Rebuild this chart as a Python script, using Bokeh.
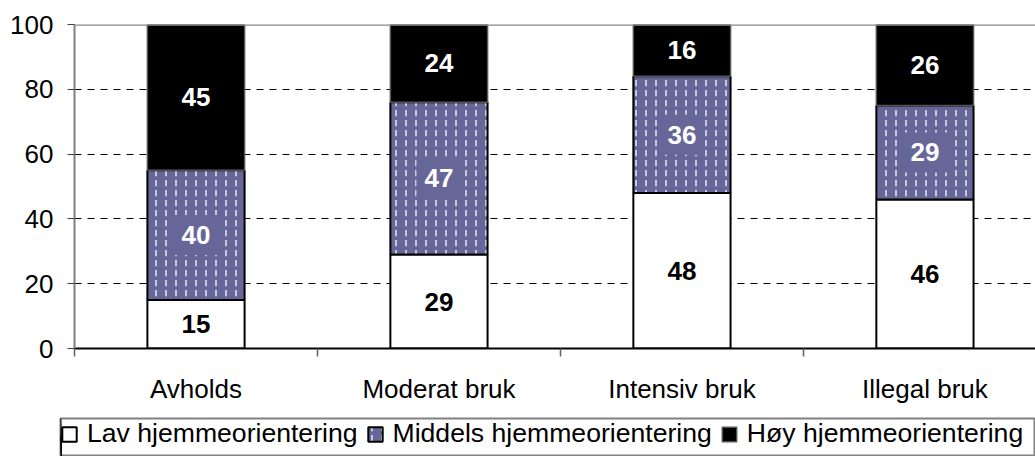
from bokeh.plotting import figure
from bokeh.layouts import column
from bokeh.models import (Range1d, FixedTicker, Label, Legend, LegendItem, Span)
from bokeh.embed import file_html
from bokeh.resources import INLINE

categories = ["Avholds", "Moderat bruk", "Intensiv bruk", "Illegal bruk"]
series_names = ["Lav hjemmeorientering", "Middels hjemmeorientering", "Høy hjemmeorientering"]
lav = [15, 29, 48, 46]
middels = [40, 47, 36, 29]
hoy = [45, 24, 16, 26]
y_ticks = [0, 20, 40, 60, 80, 100]

FONT = "Liberation Sans"
MID = "#666699"

xs = [i + 0.5 for i in range(len(categories))]

p = figure(width=1035, height=416, output_backend="svg", toolbar_location=None,
           x_range=Range1d(0, 3.955), y_range=Range1d(0, 100),
           min_border_left=74, min_border_right=0, min_border_top=24,
           min_border_bottom=68)
p.frame_align = False
p.outline_line_color = None
p.background_fill_color = "white"
p.border_fill_color = "white"

b1 = [0] * 4
t1 = [b + v for b, v in zip(b1, lav)]
t2 = [b + v for b, v in zip(t1, middels)]
t3 = [b + v for b, v in zip(t2, hoy)]

bar_lav = dict(fill_color="white", line_color="black", line_width=2)
bar_mid = dict(fill_color=MID, line_color="black", line_width=2, hatch_pattern=":",
               hatch_color="white", hatch_scale=10, hatch_weight=1.5, hatch_alpha=0.85)
bar_hoy = dict(fill_color="black", line_color="#555555", line_width=1.5)

p.vbar(x=xs, bottom=b1, top=t1, width=0.4, **bar_lav)
p.vbar(x=xs, bottom=t1, top=t2, width=0.4, **bar_mid)
p.vbar(x=xs, bottom=t2, top=t3, width=0.4, **bar_hoy)

# top border
p.add_layout(Span(location=100, dimension="width", line_color="#888888", line_width=2.5))

# grid
p.xgrid.visible = False
p.ygrid.ticker = FixedTicker(ticks=[20, 40, 60, 80])
p.ygrid.grid_line_color = "black"
p.ygrid.grid_line_dash = "7 6"
p.ygrid.grid_line_width = 1

# y axis
p.yaxis.ticker = FixedTicker(ticks=y_ticks)
p.yaxis.axis_line_color = "#808080"
p.yaxis.axis_line_width = 2
p.yaxis.major_tick_line_color = "#404040"
p.yaxis.major_tick_out = 7
p.yaxis.major_tick_in = 0
p.yaxis.minor_tick_line_color = None
p.yaxis.major_label_text_font = FONT
p.yaxis.major_label_text_font_size = "26px"
p.yaxis.major_label_text_color = "black"
p.yaxis.major_label_standoff = 14

# x axis
p.xaxis.ticker = FixedTicker(ticks=xs, minor_ticks=list(range(len(categories) + 1)))
p.xaxis.major_label_overrides = {x: c for x, c in zip(xs, categories)}
p.xaxis.axis_line_color = "black"
p.xaxis.axis_line_width = 2
p.xaxis.major_tick_line_color = None
p.xaxis.minor_tick_line_color = "#606060"
p.xaxis.minor_tick_out = 8
p.xaxis.minor_tick_in = 0
p.xaxis.minor_tick_line_width = 1.5
p.xaxis.major_label_text_font = FONT
p.xaxis.major_label_text_font_size = "26px"
p.xaxis.major_label_text_color = "black"
p.xaxis.major_label_standoff = 17

# value labels
for i, x in enumerate(xs):
    p.add_layout(Label(x=x, y=(b1[i] + t1[i]) / 2, text=str(lav[i]), text_align="center",
                       text_baseline="middle", text_font=FONT, text_font_size="26px",
                       text_font_style="bold", text_color="black"))
    p.add_layout(Label(x=x, y=(t1[i] + t2[i]) / 2, text=str(middels[i]), text_align="center",
                       text_baseline="middle", text_font=FONT, text_font_size="26px",
                       text_font_style="bold", text_color="white",
                       background_fill_color=MID, padding=(8, 11)))
    top = min(t3[i], 100)
    p.add_layout(Label(x=x, y=(t2[i] + top) / 2, text=str(hoy[i]), text_align="center",
                       text_baseline="middle", text_font=FONT, text_font_size="26px",
                       text_font_style="bold", text_color="white"))

# legend strip (same bars, drawn out of view so only the legend shows)
p2 = figure(width=1035, height=40, output_backend="svg", toolbar_location=None,
            x_range=Range1d(100, 101), y_range=Range1d(0, 100),
            x_axis_location=None, y_axis_location=None,
            min_border_left=60, min_border_right=0, min_border_top=2, min_border_bottom=0)
p2.frame_align = False
p2.outline_line_color = "#808080"
p2.outline_line_width = 2
p2.grid.visible = False
p2.border_fill_color = "white"
p2.background_fill_color = "white"
l1 = p2.vbar(x=xs, bottom=b1, top=t1, width=0.4, **bar_lav)
l2 = p2.vbar(x=xs, bottom=t1, top=t2, width=0.4, **bar_mid)
l3 = p2.vbar(x=xs, bottom=t2, top=t3, width=0.4, **bar_hoy)

legend = Legend(items=[LegendItem(label=series_names[0], renderers=[l1], index=0),
                       LegendItem(label=series_names[1], renderers=[l2], index=0),
                       LegendItem(label=series_names[2], renderers=[l3], index=0)],
                orientation="horizontal", location="top_left", margin=0,
                padding=7, spacing=8, label_standoff=9,
                glyph_width=18, glyph_height=18,
                label_text_font=FONT, label_text_font_size="26.6px",
                label_text_color="black",
                border_line_color=None,
                background_fill_color="white", background_fill_alpha=0)
p2.add_layout(legend, "center")

layout = column(p, p2, spacing=0)
open("out.html", "w").write(file_html(layout, INLINE))
